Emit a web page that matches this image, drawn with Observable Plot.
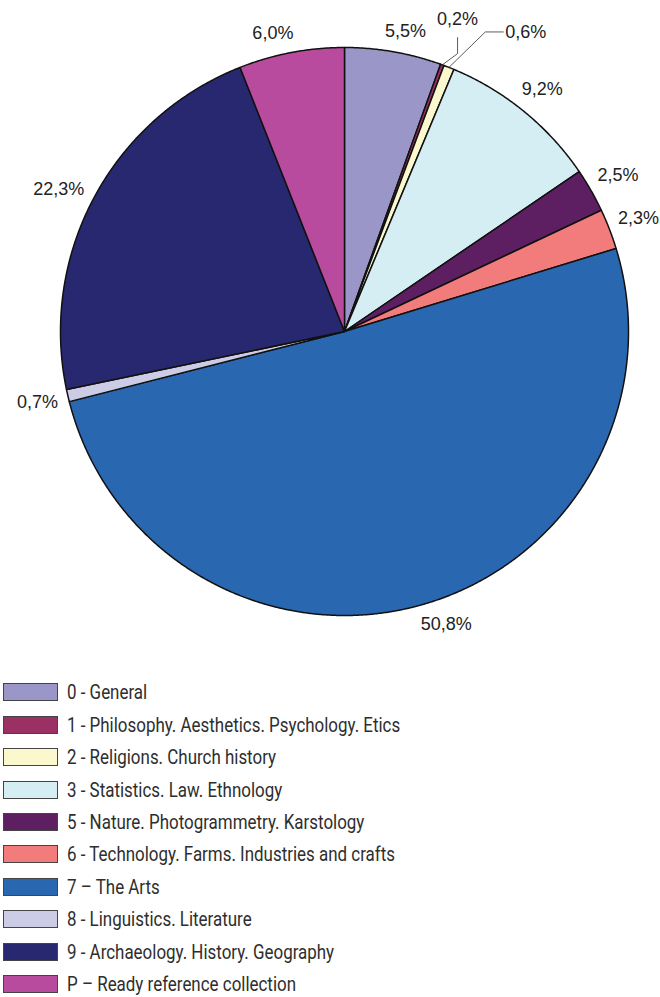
<!DOCTYPE html>
<html>
<head>
<meta charset="utf-8">
<script src="https://cdn.jsdelivr.net/npm/d3@7"></script>
<script src="https://cdn.jsdelivr.net/npm/@observablehq/plot@0.6"></script>
<style>
  html, body { margin: 0; padding: 0; background: #fff; }
  #chart svg { display: block; }
  #legend { margin-top: 16px; }
  .row { display: flex; align-items: center; height: 32.45px; }
  .sw { box-sizing: border-box; flex: none; width: 55px; height: 18px; margin-left: 3px; border: 1.5px solid #444; }
  .lab { display: inline-block; margin-left: 9px; font-family: Roboto, "Liberation Sans", sans-serif; font-size: 20.5px; color: #2e2e2e; white-space: nowrap; transform: scaleX(0.826); transform-origin: left center; }
</style>
</head>
<body>
<div id="chart"></div>
<div id="legend"></div>
<script>
// ---- data ----
const codes = ["0", "1", "2", "3", "5", "6", "7", "8", "9", "P"];
const categories = [
  "0 - General",
  "1 - Philosophy. Aesthetics. Psychology. Etics",
  "2 - Religions. Church history",
  "3 - Statistics. Law. Ethnology",
  "5 - Nature. Photogrammetry. Karstology",
  "6 - Technology. Farms. Industries and crafts",
  "7 \u2013 The Arts",
  "8 - Linguistics. Literature",
  "9 - Archaeology. History. Geography",
  "P \u2013 Ready reference collection"
];
const shares = [5.5, 0.2, 0.6, 9.2, 2.5, 2.3, 50.8, 0.7, 22.3, 6.0];
const colors = ["#9a96c8", "#9b3065", "#faf8cc", "#d4eef4", "#5e1f62", "#f27c7c", "#2a67b1", "#cccce6", "#272870", "#b84b9e"];
const labels = shares.map(v => v.toFixed(1).replace(".", ",") + "%");

// ---- layout ----
const W = 660, H = 660;
const R = 284, CX = 344, CY = 331;
const callouts = { "1": "up", "2": "right" };
const labelNudgeDeg = { "0": 1.6, "P": -2.7, "7": -3.5, "9": -1.8 };
const fontSize = 18;
const rad = Math.PI / 180;

const arcs = d3.pie().sort(null).value(d => d)(shares);

const slicePts = [];
arcs.forEach((a, i) => {
  const code = codes[i];
  slicePts.push({ code, x: 0, y: 0 });
  const n = Math.max(2, Math.ceil((a.endAngle - a.startAngle) / 0.005));
  for (let k = 0; k <= n; k++) {
    const t = a.startAngle + (a.endAngle - a.startAngle) * k / n;
    slicePts.push({ code, x: R * Math.sin(t), y: R * Math.cos(t) });
  }
  slicePts.push({ code, x: 0, y: 0 });
});

const labelData = [];
const leaderPts = [];
arcs.forEach((a, i) => {
  const code = codes[i];
  const mid = (a.startAngle + a.endAngle) / 2;
  const mode = callouts[code];
  if (mode === "up") {
    const e = { x: R * Math.sin(mid), y: R * Math.cos(mid) };
    const ang = mid + 2 * rad;
    const b = { x: 300 * Math.sin(ang), y: 300 * Math.cos(ang) };
    const t = { x: b.x, y: b.y + 16 };
    [e, b, t].forEach(p => leaderPts.push({ code, ...p }));
    labelData.push({ code, x: t.x, y: t.y + 18, text: labels[i], anchor: "middle" });
  } else if (mode === "right") {
    const e = { x: R * Math.sin(mid), y: R * Math.cos(mid) };
    const ang = mid + 3.6 * rad;
    const b = { x: 331 * Math.sin(ang), y: 331 * Math.cos(ang) };
    const t = { x: b.x + 18, y: b.y };
    [e, b, t].forEach(p => leaderPts.push({ code, ...p }));
    labelData.push({ code, x: t.x + 2, y: t.y, text: labels[i], anchor: "start" });
  } else {
    const ang = mid + (labelNudgeDeg[code] || 0) * rad;
    const s = Math.sin(ang), c = Math.cos(ang);
    const w = labels[i].length * 9;
    const r = 296 + (w / 2) * Math.abs(s) + 7 * Math.abs(c);
    labelData.push({ code, x: r * s, y: r * c, text: labels[i], anchor: "middle" });
  }
});

const plot = Plot.plot({
  width: W,
  height: H,
  margin: 0,
  x: { domain: [-CX, W - CX], range: [0, W], axis: null },
  y: { domain: [-(H - CY), CY], range: [H, 0], axis: null },
  color: { type: "ordinal", domain: codes, range: colors },
  style: { fontFamily: "'Liberation Sans', Arial, sans-serif", background: "#fff" },
  marks: [
    Plot.line(slicePts, { x: "x", y: "y", z: "code", fill: "code", stroke: "#111", strokeWidth: 1.5, strokeLinejoin: "round" }),
    Plot.line(leaderPts, { x: "x", y: "y", z: "code", stroke: "#333", strokeWidth: 0.8 }),
    Plot.text(labelData.filter(d => d.anchor === "middle"), { x: "x", y: "y", text: "text", fontSize, fill: "#222", textAnchor: "middle" }),
    Plot.text(labelData.filter(d => d.anchor === "start"), { x: "x", y: "y", text: "text", fontSize, fill: "#222", textAnchor: "start" })
  ]
});
document.getElementById("chart").appendChild(plot);

const legend = document.getElementById("legend");
categories.forEach((name, i) => {
  const row = document.createElement("div");
  row.className = "row";
  const sw = document.createElement("div");
  sw.className = "sw";
  sw.style.background = colors[i];
  const lab = document.createElement("span");
  lab.className = "lab";
  lab.textContent = name;
  row.appendChild(sw);
  row.appendChild(lab);
  legend.appendChild(row);
});
</script>
</body>
</html>
